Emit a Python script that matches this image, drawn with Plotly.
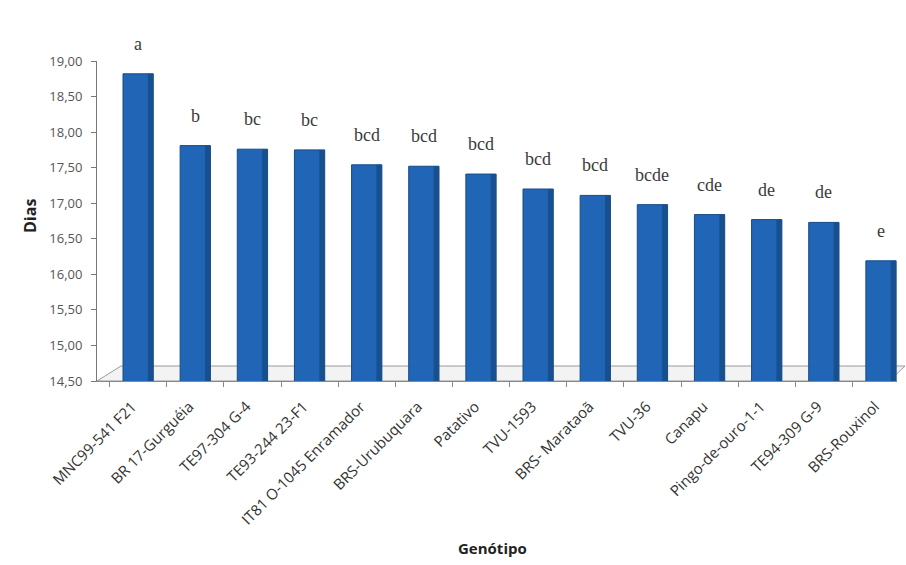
import plotly.graph_objects as go

genotipos = [
    "MNC99-541 F21", "BR 17-Gurguéia", "TE97-304 G-4", "TE93-244 23-F1",
    "IT81 O-1045 Enramador", "BRS-Urubuquara", "Patativo", "TVU-1593",
    "BRS- Marataoã", "TVU-36", "Canapu", "Pingo-de-ouro-1-1",
    "TE94-309 G-9", "BRS-Rouxinol",
]
dias = [18.82, 17.81, 17.76, 17.75, 17.54, 17.52, 17.41, 17.20,
        17.11, 16.98, 16.84, 16.77, 16.73, 16.19]
letras = ["a", "b", "bc", "bc", "bcd", "bcd", "bcd", "bcd",
          "bcd", "bcde", "cde", "de", "de", "e"]
y_ticks = [14.5, 15.0, 15.5, 16.0, 16.5, 17.0, 17.5, 18.0, 18.5, 19.0]

W, H = 906, 565
ml, mr, mt, mb = 97, 9, 61, 184
pw, ph = W - ml - mr, H - mt - mb

bar_w = 0.53
side_w = 0.09

fig = go.Figure()
fig.add_trace(go.Bar(
    x=genotipos, y=dias,
    marker=dict(color="#2166b6", line=dict(color="#174a86", width=1)),
    width=bar_w, showlegend=False, hoverinfo="x+y",
))
# darker right-hand side face for a 3D look
fig.add_trace(go.Bar(
    x=genotipos, y=dias,
    marker=dict(color="#18508f", line=dict(width=0)),
    width=side_w, offset=bar_w / 2 - side_w - 0.005,
    showlegend=False, hoverinfo="skip",
))

annotations = []
for g, v, l in zip(genotipos, dias, letras):
    annotations.append(dict(
        x=g, y=v, xref="x", yref="y", text=l, showarrow=False,
        yshift=30, yanchor="middle",
        font=dict(family="Liberation Serif", size=18, color="#3a3a3a"),
    ))
annotations.append(dict(
    x=(30 - ml) / pw, y=((H - mb) - 216) / ph, xref="paper", yref="paper",
    xanchor="center", yanchor="middle",
    text="<b>Dias</b>", showarrow=False, textangle=-90,
    font=dict(family="Open Sans", size=16, color="#222"),
))
annotations.append(dict(
    x=(492 - ml) / pw, y=-((548 - (H - mb)) / ph), xref="paper", yref="paper",
    xanchor="center", yanchor="middle",
    text="<b>Genótipo</b>", showarrow=False,
    font=dict(family="Open Sans", size=15, color="#222"),
))

# floor of the 3D-like chart
floor_depth = 15 / ph
shapes = [
    dict(type="path", xref="x domain", yref="y domain",
         path=f"M 0 0 L 0.99 0 L 1.01 {floor_depth} L 0.03 {floor_depth} Z",
         fillcolor="rgba(235,235,235,0.6)", line=dict(color="#9a9a9a", width=1),
         layer="below"),
]

fig.update_layout(
    width=W, height=H,
    margin=dict(l=ml, r=mr, t=mt, b=mb),
    plot_bgcolor="white", paper_bgcolor="white",
    separators=",.",
    barmode="overlay",
    annotations=annotations,
    shapes=shapes,
    font=dict(family="Open Sans", color="#333"),
)
fig.update_xaxes(
    range=[-0.72, 13.28], tickangle=-45, tickson="boundaries",
    ticks="outside", ticklen=5, tickcolor="#888",
    ticklabelstandoff=10, ticklabelshift=-6,
    showline=True, linecolor="#888", linewidth=1,
    tickfont=dict(family="Open Sans", size=15, color="#333"),
    showgrid=False,
)
fig.update_yaxes(
    range=[14.5, 19.0], tickvals=y_ticks, tickformat=".2f",
    ticks="outside", ticklen=5, tickcolor="#777",
    ticklabelstandoff=6,
    showline=True, linecolor="#777", linewidth=1,
    tickfont=dict(family="Open Sans", size=13, color="#555"),
    showgrid=False, zeroline=False,
)

fig.write_html("out.html")
